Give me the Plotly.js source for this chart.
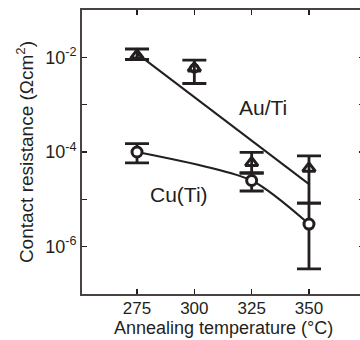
<!DOCTYPE html>
<html>
<head>
<meta charset="utf-8">
<script src="https://cdn.plot.ly/plotly-3.0.1.min.js"></script>
<style>
html,body{margin:0;padding:0;background:#fff;overflow:hidden;}
#chart{width:366px;height:340px;}
</style>
</head>
<body>
<div id="chart"></div>
<script>
// Annealing temperatures (°C)
var temps = [275, 300, 325, 350];
// Au/Ti contact resistance (Ω cm²) with error-bar bounds
var auVal = [1.1e-2, 5.9e-3, 5.9e-5, 4.5e-5];
var auHi  = [1.5e-2, 8.7e-3, 9.8e-5, 8.3e-5];
var auLo  = [9.0e-3, 2.8e-3, 3.6e-5, 8.3e-6];
// Cu(Ti) contact resistance
var cuTemps = [275, 325, 350];
var cuVal = [1.0e-4, 2.5e-5, 3.0e-6];
var cuHi  = [1.5e-4, 3.6e-5, 8.3e-6];
var cuLo  = [5.9e-5, 1.5e-5, 3.4e-7];
// extra circle marker at 300 °C
var extraTemps = [300];
var extraVal = [5.9e-3];
// Au/Ti fitted line endpoints
var fitAuX = [275, 350];
var fitAuY = [1.2e-2, 2.1e-5];
// tick values and labels
var yTickVals = [1e-6, 1e-4, 1e-2];
var yTickText = ['10<sup>-6</sup>', '10<sup>-4</sup>', '10<sup>-2</sup>'];
var yMinorVals = [1e-5, 1e-3];
var xTickVals = [275, 300, 325, 350];
var xTickText = ['275', '300', '325', '350'];
var xTitle = 'Annealing temperature (°C)';
var yTitle = 'Contact resistance (Ωcm<sup>2</sup>)';

var ink = '#231f20';
function diff(a, b) { return a.map(function (v, i) { return Math.abs(v - b[i]); }); }

var traces = [
  {x: fitAuX, y: fitAuY, mode: 'lines', line: {color: ink, width: 2}, hoverinfo: 'skip'},
  {x: cuTemps, y: cuVal, mode: 'lines', line: {color: ink, width: 2, shape: 'spline', smoothing: 0.7}, hoverinfo: 'skip'},
  {x: temps, y: auVal, mode: 'markers',
   marker: {symbol: 'triangle-up-open', size: 11, color: ink, line: {width: 3, color: ink}},
   error_y: {type: 'data', symmetric: false, array: diff(auHi, auVal), arrayminus: diff(auVal, auLo),
             color: ink, thickness: 2.8, width: 12}},
  {x: cuTemps, y: cuVal, mode: 'markers',
   marker: {symbol: 'circle', size: 10, color: '#fff', line: {width: 3, color: ink}},
   error_y: {type: 'data', symmetric: false, array: diff(cuHi, cuVal), arrayminus: diff(cuVal, cuLo),
             color: ink, thickness: 2.8, width: 12}},
  {x: extraTemps, y: extraVal, mode: 'markers',
   marker: {symbol: 'circle-open', size: 8, color: ink, line: {width: 2.5, color: ink}}}
];

var ff = '"Liberation Sans", Arial, sans-serif';

var layout = {
  width: 366, height: 340,
  margin: {l: 82, r: 2, t: 10, b: 46},
  paper_bgcolor: '#fff', plot_bgcolor: '#fff',
  showlegend: false,
  font: {family: ff, color: ink},
  xaxis: {
    range: [251, 374], tickvals: xTickVals, ticktext: xTickText,
    ticks: 'inside', ticklen: 5, tickwidth: 1.5, tickcolor: ink,
    ticklabelstandoff: -2,
    showline: true, linecolor: '#4a4242', linewidth: 2, mirror: 'ticks',
    showgrid: false, zeroline: false,
    tickfont: {size: 17, family: ff, color: ink}
  },
  yaxis: {
    type: 'log', range: [-7, -1], tickvals: yTickVals, ticktext: yTickText,
    ticks: 'inside', ticklen: 5, tickwidth: 1.5, tickcolor: ink,
    minor: {tickmode: 'array', tickvals: yMinorVals, ticks: 'inside', ticklen: 5, tickwidth: 1.5, tickcolor: ink, showgrid: false},
    showline: true, linecolor: '#4a4242', linewidth: 2, mirror: 'ticks',
    showgrid: false, zeroline: false,
    tickfont: {size: 18, family: ff, color: ink},
    title: {text: yTitle, font: {size: 19, family: ff, color: ink}}
  },
  annotations: [
    {x: 0.5, y: 0, xref: 'paper', yref: 'paper', yanchor: 'bottom', yshift: -46,
     text: xTitle, showarrow: false, font: {size: 18, family: ff, color: ink}},
    {x: 330, y: -3.07, xref: 'x', yref: 'y', text: 'Au/Ti', showarrow: false,
     font: {size: 21, family: ff, color: ink}},
    {x: 293.5, y: -4.89, xref: 'x', yref: 'y', text: 'Cu(Ti)', showarrow: false,
     font: {size: 21, family: ff, color: ink}}
  ]
};

Plotly.newPlot('chart', traces, layout, {displayModeBar: false, staticPlot: true});
</script>
</body>
</html>
